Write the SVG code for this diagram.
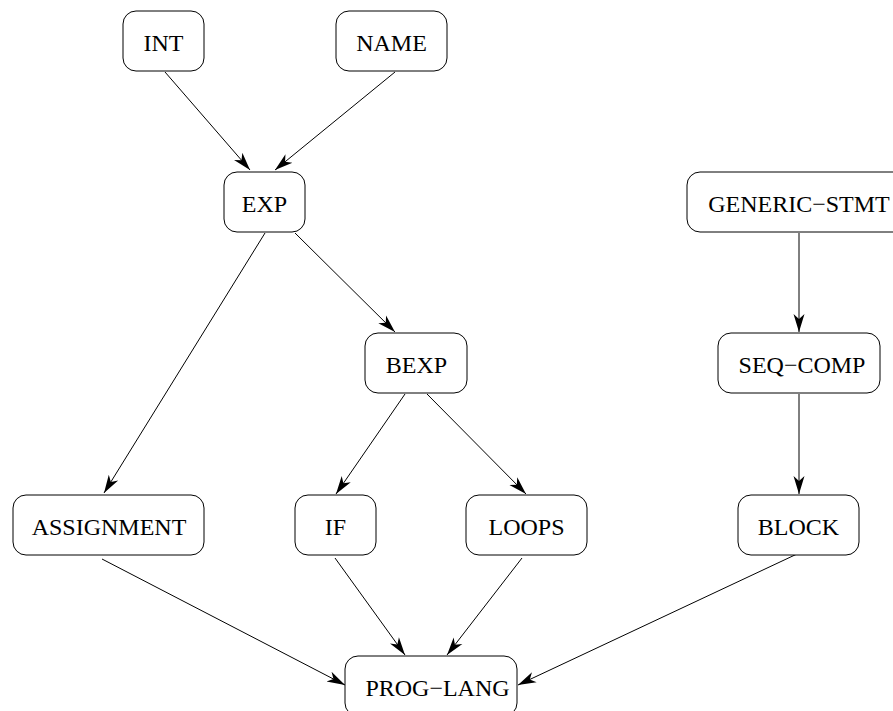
<svg xmlns="http://www.w3.org/2000/svg" width="893" height="711" viewBox="0 0 893 711">
<style>
.box{fill:#fff;stroke:#000;stroke-width:1}
.lbl{font-family:"Liberation Serif","Times New Roman",serif;font-size:24px;fill:#000;text-anchor:middle}
.edge{fill:none;stroke:#000;stroke-width:1;marker-end:url(#ah)}
</style>
<defs>
<marker id="ah" markerWidth="20" markerHeight="14" refX="18" refY="7" orient="auto" markerUnits="userSpaceOnUse">
<path d="M0,1.5 L18,7 L0,12.5 L5,7 z" fill="#000"/>
</marker>
</defs>
<rect width="893" height="711" fill="#fff"/>
<g id="edges">
<line class="edge" x1="165" y1="72" x2="250" y2="170"/>
<line class="edge" x1="395" y1="72" x2="275" y2="170"/>
<line class="edge" x1="265" y1="233" x2="104" y2="493"/>
<line class="edge" x1="295" y1="233" x2="395" y2="332"/>
<line class="edge" x1="405" y1="394" x2="336" y2="494"/>
<line class="edge" x1="427" y1="394" x2="526" y2="494"/>
<line class="edge" x1="799" y1="233" x2="799" y2="332"/>
<line class="edge" x1="799" y1="394" x2="799" y2="494"/>
<line class="edge" x1="102" y1="559" x2="345" y2="685"/>
<line class="edge" x1="335" y1="558" x2="405" y2="655"/>
<line class="edge" x1="522" y1="558" x2="447" y2="655"/>
<line class="edge" x1="797" y1="554" x2="518" y2="685"/>
</g>
<g id="INT"><rect class="box" x="123" y="11" width="81" height="60" rx="13"/><text class="lbl" x="163.5" y="51">INT</text></g>
<g id="NAME"><rect class="box" x="336" y="11" width="111" height="60" rx="13"/><text class="lbl" x="391.5" y="51">NAME</text></g>
<g id="EXP"><rect class="box" x="224" y="172" width="81" height="60" rx="13"/><text class="lbl" x="264.5" y="212">EXP</text></g>
<g id="GENERIC-STMT"><rect class="box" x="687" y="172" width="222" height="60" rx="13"/><text class="lbl" x="799" y="212">GENERIC−STMT</text></g>
<g id="BEXP"><rect class="box" x="365" y="333" width="102" height="60" rx="13"/><text class="lbl" x="416.5" y="373">BEXP</text></g>
<g id="SEQ-COMP"><rect class="box" x="718" y="333" width="162" height="60" rx="13"/><text class="lbl" x="802" y="373">SEQ−COMP</text></g>
<g id="ASSIGNMENT"><rect class="box" x="13" y="495" width="191" height="60" rx="13"/><text class="lbl" x="109" y="535">ASSIGNMENT</text></g>
<g id="IF"><rect class="box" x="295" y="495" width="81" height="60" rx="13"/><text class="lbl" x="335.5" y="535">IF</text></g>
<g id="LOOPS"><rect class="box" x="466" y="495" width="121" height="60" rx="13"/><text class="lbl" x="526.5" y="535">LOOPS</text></g>
<g id="BLOCK"><rect class="box" x="738" y="495" width="121" height="60" rx="13"/><text class="lbl" x="798.5" y="535">BLOCK</text></g>
<g id="PROG-LANG"><rect class="box" x="345" y="656" width="172" height="60" rx="13"/><text class="lbl" x="437.5" y="696">PROG−LANG</text></g>
</svg>
